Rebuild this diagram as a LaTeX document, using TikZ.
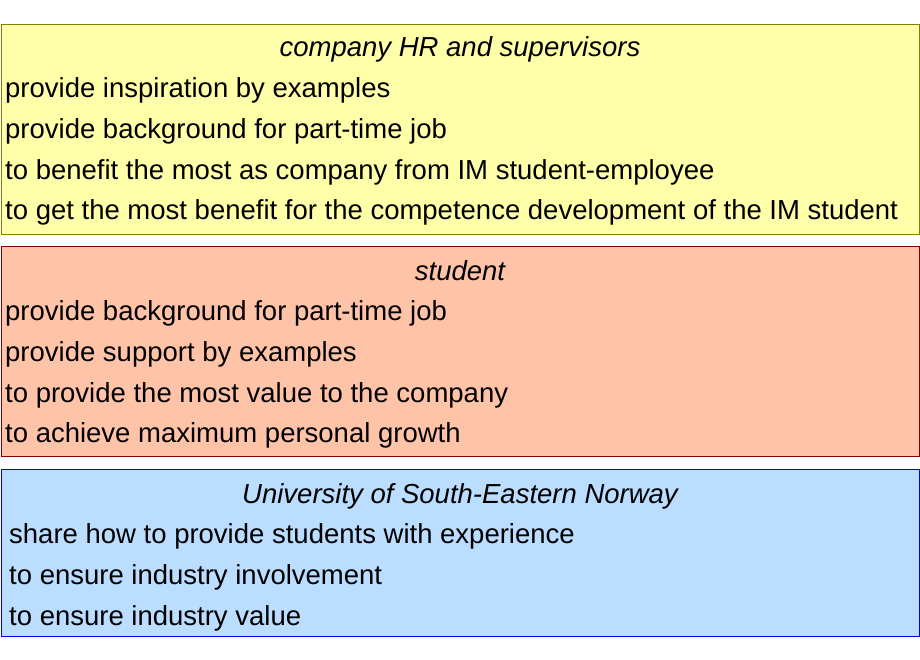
\documentclass[tikz,border=0pt]{standalone}
\usepackage{fontspec}
\setmainfont{Liberation Sans}
\usetikzlibrary{positioning}
\definecolor{hrfill}{HTML}{FFFFAA}
\definecolor{hrline}{HTML}{808000}
\definecolor{studfill}{HTML}{FFC4A8}
\definecolor{studline}{HTML}{800000}
\definecolor{usnfill}{HTML}{BBDDFF}
\definecolor{usnline}{HTML}{0000EE}
\tikzset{
  every node/.style={font=\fontsize{27.5}{40.7}\selectfont},
}

\begin{document}
\begin{tikzpicture}[x=1pt, y=-1pt,
      party/.style args={#1/#2}{rectangle, draw=#2, fill=#1, line width=1pt,
        anchor=north west, minimum width=918pt, inner sep=0pt},
      heading/.style={anchor=base, inner sep=0pt, font=\fontsize{27.5}{40.7}\selectfont\itshape},
      item/.style={anchor=base west, inner sep=0pt},
    ]
      \useasboundingbox (0,0) rectangle (920,660);
      % the three parties
      \node [party=hrfill/hrline, minimum height=210pt] (hr) at (1,24) {};
      \node [party=studfill/studline, minimum height=210pt] (stud) at (1,246) {};
      \node [party=usnfill/usnline, minimum height=167pt] (usn) at (1,469) {};
      % company
      \node [heading] (hr-title) at (460,57) {company HR and supervisors};
      \foreach \txt [count=\i] in {provide inspiration by examples,
          provide background for part-time job,
          to benefit the most as company from IM student-employee,
          to get the most benefit for the competence development of the IM student}
        \node [item] (hr-\i) at (5,{57+40.7*\i}) {\txt};
      % student
      \node [heading] (stud-title) at (460,280) {student};
      \foreach \txt [count=\i] in {provide background for part-time job,
          provide support by examples,
          to provide the most value to the company,
          to achieve maximum personal growth}
        \node [item] (stud-\i) at (5,{280+40.7*\i}) {\txt};
      % university
      \node [heading] (usn-title) at (460,503) {University of South-Eastern Norway};
      \foreach \txt [count=\i] in {share how to provide students with experience,
          to ensure industry involvement,
          to ensure industry value}
        \node [item] (usn-\i) at (9,{503+40.7*\i}) {\txt};
    \end{tikzpicture}
\end{document}
